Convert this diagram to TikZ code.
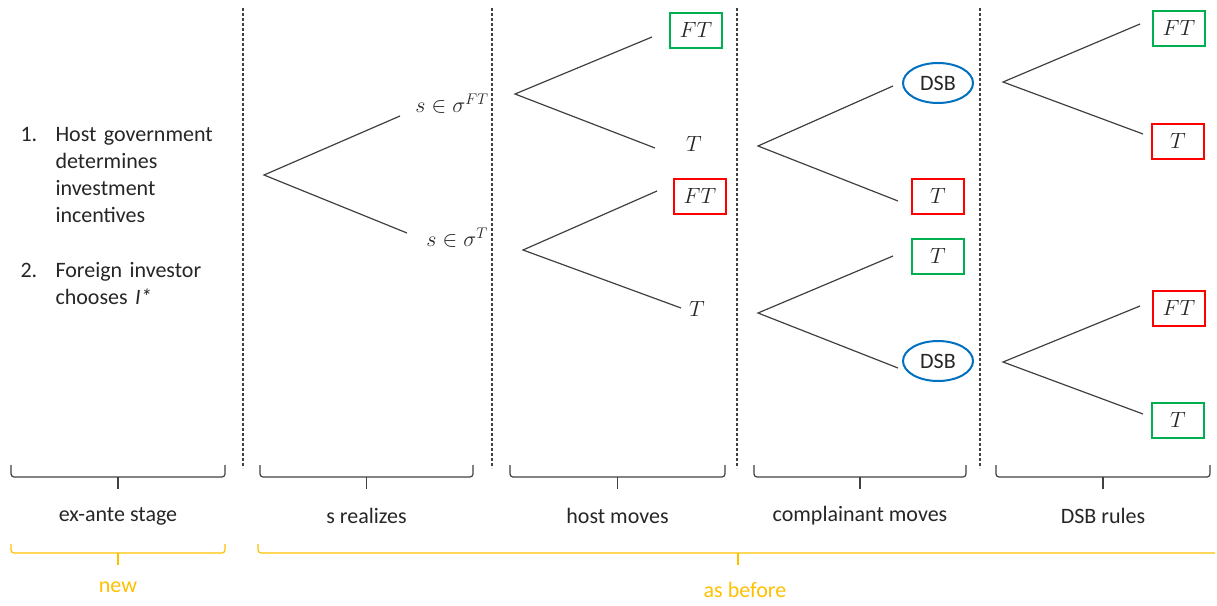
\RequirePackage{fix-cm}
\documentclass[tikz,border=0pt]{standalone}
\usepackage{fontspec}
\setmainfont{Carlito}
\usetikzlibrary{shapes.geometric}
\definecolor{boxgreen}{RGB}{0,176,80}
\definecolor{boxred}{RGB}{255,0,0}
\definecolor{dsbblue}{RGB}{0,112,192}
\definecolor{newgold}{RGB}{255,192,0}
\definecolor{branchgray}{RGB}{64,64,64}
\definecolor{textgray}{RGB}{38,38,38}
\tikzset{
  x=1pt,y=-1pt,
}
\tikzstyle{every node}=[font=\fontsize{22}{27}\selectfont,text=textgray]
\tikzstyle{branch}=[branchgray,line width=1.2pt]
\tikzstyle{divider}=[branchgray,line width=1.2pt,dash pattern=on 3pt off 2pt]
\tikzstyle{brace}=[branchgray,line width=1.2pt,rounded corners=3pt]
\tikzstyle{gbox}=[draw=boxgreen,line width=2pt,minimum width=52pt,minimum height=35pt]
\tikzstyle{rbox}=[draw=boxred,line width=2pt,minimum width=52pt,minimum height=35pt]
\tikzstyle{dsb}=[ellipse,draw=dsbblue,line width=2pt,minimum width=70pt,minimum height=40pt,inner sep=0pt]

\begin{document}
\begin{tikzpicture}
  \useasboundingbox (0,0) rectangle (1217,605);
  % stage dividers
  \foreach \x in {243,492,737,980}
    \draw[divider] (\x,8) -- (\x,468);

  % ex-ante stage
  \node[anchor=base west] (one) at (17,141) {1.};
  \node[anchor=base west,text width=180pt,align=left] (hostgov) at (52,141)
    {Host government\\determines\\investment\\incentives};
  \node[anchor=base west] (two) at (17,277) {2.};
  \node[anchor=base west,text width=180pt,align=left] (investor) at (52,277)
    {Foreign investor\\chooses \textit{I*}};

  % s realizes
  \coordinate (sroot) at (264,175);
  \coordinate (sup) at (400,116);
  \coordinate (sdn) at (407,233);
  \draw[branch] (sup) -- (sroot) -- (sdn);
  \node (sFT) at (452,104) {$s\in\sigma^{FT}$};
  \node (sT) at (457,238) {$s\in\sigma^{T}$};

  % host moves
  \coordinate (hroot1) at (515,94);
  \coordinate (hup1) at (652,37);
  \coordinate (hdn1) at (655,148);
  \draw[branch] (hup1) -- (hroot1) -- (hdn1);
  \node[gbox] (hFT1) at (696,30) {$FT$};
  \node (hT1) at (694,144) {$T$};
  \coordinate (hroot2) at (523,250);
  \coordinate (hup2) at (657,191);
  \coordinate (hdn2) at (681,308);
  \draw[branch] (hup2) -- (hroot2) -- (hdn2);
  \node[rbox] (hFT2) at (700,196) {$FT$};
  \node (hT2) at (697,309) {$T$};

  % complainant moves
  \coordinate (croot1) at (758,146);
  \coordinate (cup1) at (893,86);
  \coordinate (cdn1) at (898,201);
  \draw[branch] (cup1) -- (croot1) -- (cdn1);
  \node[dsb] (cDSB1) at (938,83) {DSB};
  \node[rbox] (cT1) at (938,196) {$T$};
  \coordinate (croot2) at (758,313);
  \coordinate (cup2) at (893,256);
  \coordinate (cdn2) at (898,368);
  \draw[branch] (cup2) -- (croot2) -- (cdn2);
  \node[gbox] (cT2) at (938,256) {$T$};
  \node[dsb] (cDSB2) at (938,361) {DSB};

  % DSB rules
  \coordinate (droot1) at (1003,82);
  \coordinate (dup1) at (1140,24);
  \coordinate (ddn1) at (1143,134);
  \draw[branch] (dup1) -- (droot1) -- (ddn1);
  \node[gbox] (dFT1) at (1179,28) {$FT$};
  \node[rbox] (dT1) at (1178,141) {$T$};
  \coordinate (droot2) at (1003,362);
  \coordinate (dup2) at (1140,306);
  \coordinate (ddn2) at (1143,414);
  \draw[branch] (dup2) -- (droot2) -- (ddn2);
  \node[rbox] (dFT2) at (1179,308) {$FT$};
  \node[gbox] (dT2) at (1178,420) {$T$};

  % stage braces
  \foreach \a/\b/\lab/\nm in {11/225/ex-ante stage/exante,260/473/s realizes/srealizes,
      510/725/host moves/hostmoves,754/966/complainant moves/complainant,996/1210/DSB rules/dsbrules}{
    \draw[brace] (\a,465) -- (\a,477) -- (\b,477) -- (\b,465);
    \draw[brace] ({(\a+\b)/2},477) -- ({(\a+\b)/2},489);
    \node (\nm) at ({(\a+\b)/2},516) {\lab};
  }

  % new vs. as before
  \draw[brace,newgold] (11,544) -- (11,553) -- (225,553) -- (225,544);
  \draw[brace,newgold] (118,553) -- (118,565);
  \node[text=newgold] (new) at (118,587) {new};
  \draw[brace,newgold] (258,544) -- (258,553) -- (1215,553);
  \draw[brace,newgold] (738,553) -- (738,565);
  \node[text=newgold] (asbefore) at (745,590) {as before};
\end{tikzpicture}
\end{document}
